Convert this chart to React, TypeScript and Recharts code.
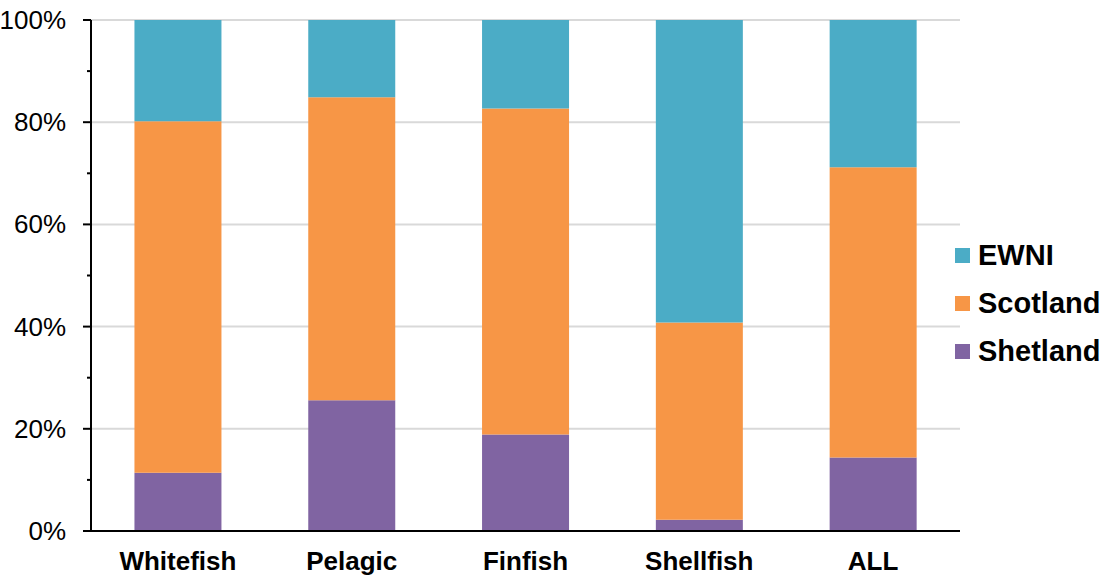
import React from 'react';
import { BarChart, Bar, XAxis, YAxis, CartesianGrid } from 'recharts';

const categories = ['Whitefish', 'Pelagic', 'Finfish', 'Shellfish', 'ALL'];
const shetland = [11.4, 25.6, 18.9, 2.2, 14.4];
const scotland = [68.8, 59.3, 63.8, 38.6, 56.8];
const ewni = [19.8, 15.1, 17.3, 59.2, 28.8];
const yTicks = [0, 10, 20, 30, 40, 50, 60, 70, 80, 90, 100];
const gridValues = [20, 40, 60, 80, 100];

const series = [
  { key: 'Shetland', values: shetland, color: '#8064A2' },
  { key: 'Scotland', values: scotland, color: '#F79646' },
  { key: 'EWNI', values: ewni, color: '#4BACC6' },
];

const data = categories.map((name, i) => {
  const row: Record<string, any> = { name };
  series.forEach((s) => {
    row[s.key] = s.values[i];
  });
  return row;
});

const FONT = '"Liberation Sans", Arial, sans-serif';

const YTick = (props: any) => {
  const { x, y, payload } = props;
  const major = payload.value % 20 === 0;
  return (
    <g>
      <line x1={x - (major ? 8 : 4)} x2={x} y1={y} y2={y} stroke="#000" strokeWidth={2} />
      {major && (
        <text
          x={x - 25}
          y={y}
          textAnchor="end"
          dominantBaseline="central"
          fontSize={26}
          fontFamily={FONT}
          fill="#000"
        >
          {payload.value}%
        </text>
      )}
    </g>
  );
};

export default function App() {
  const legendItems = [...series].reverse();
  return (
    <div style={{ position: 'absolute', left: 0, top: 0, width: 1102, height: 576, fontFamily: FONT, background: '#fff' }}>
      <BarChart
        width={1102}
        height={576}
        data={data}
        margin={{ top: 20, right: 142, bottom: 0, left: 0 }}
        barCategoryGap="25%"
      >
        <CartesianGrid
          vertical={false}
          horizontalValues={gridValues}
          stroke="#d9d9d9"
          strokeWidth={2}
        />
        <XAxis
          dataKey="name"
          height={45}
          tickLine={false}
          tickSize={0}
          tickMargin={21}
          interval={0}
          axisLine={{ stroke: '#000', strokeWidth: 2 }}
          tick={{ fontSize: 26, fontWeight: 'bold', fill: '#000', fontFamily: FONT }}
        />
        <YAxis
          width={91}
          domain={[0, 100]}
          ticks={yTicks}
          interval={0}
          tickLine={false}
          tickSize={0}
          tickMargin={0}
          axisLine={{ stroke: '#000', strokeWidth: 2 }}
          tick={<YTick />}
        />
        {series.map((s) => (
          <Bar key={s.key} dataKey={s.key} stackId="a" fill={s.color} isAnimationActive={false} />
        ))}
      </BarChart>
      <div style={{ position: 'absolute', left: 955, top: 231, display: 'flex', flexDirection: 'column' }}>
        {legendItems.map((s) => (
          <div key={s.key} style={{ height: 48, display: 'flex', alignItems: 'center' }}>
            <div style={{ width: 15, height: 15, background: s.color, marginRight: 8 }} />
            <span style={{ fontSize: 29, fontWeight: 'bold', color: '#000', fontFamily: FONT, whiteSpace: 'nowrap' }}>{s.key}</span>
          </div>
        ))}
      </div>
    </div>
  );
}
